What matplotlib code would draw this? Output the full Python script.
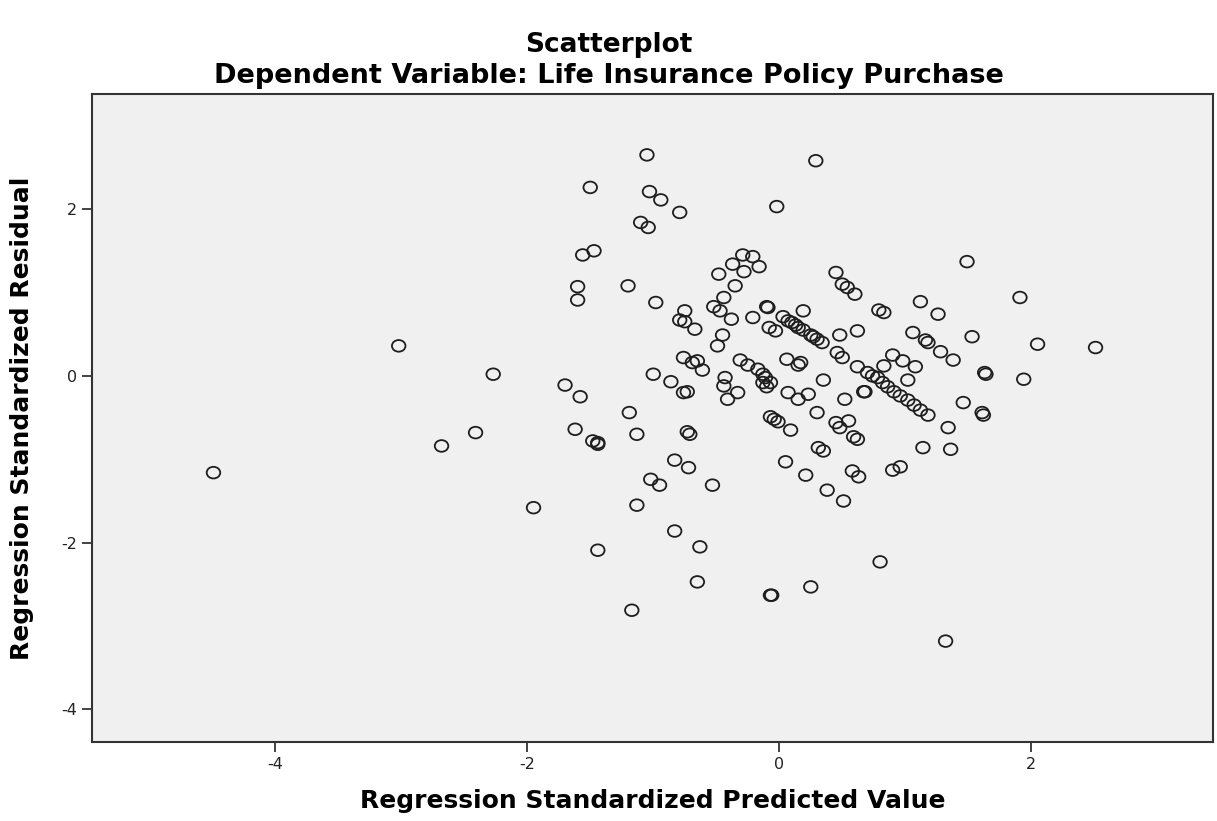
import matplotlib.pyplot as plt
import numpy as np
from matplotlib.path import Path

plt.rcParams['axes.unicode_minus'] = False

# standardized predicted value (x) and standardized residual (y)
pred = [
    -4.49, -3.02, -2.68, -2.41, -2.27, -1.95, -1.05, 0.29, -1.50, -1.03,
    -0.94, -0.79, -0.02, -1.10, -1.04, -1.56, -1.47, -1.60, -1.60, -1.20,
    -0.98, -0.29, -0.21, -0.37, -0.16, -0.28, -0.48, -0.35, -0.44, -0.52,
    -0.47, -0.38, -0.75, -0.79, -0.75, -0.67, -0.21, -0.10, -0.09, 0.03,
    0.07, 0.13, 0.15, 0.19, 0.19, -0.08, -0.03, 0.25, 0.30, 0.34,
    0.45, 0.50, 0.54, 0.60, 0.48, 0.62, -0.45, -0.49, -1.70, -1.00,
    -0.86, -0.76, -0.69, -0.65, -0.61, -0.31, -0.25, -0.17, -0.13, -0.11,
    -0.07, 0.06, 0.15, 0.17, -0.43, -0.44, 0.35, 0.46, 0.50, 0.62,
    0.70, 0.79, 0.83, -0.76, -0.73, -0.41, -0.33, -0.13, -0.10, 0.07,
    0.15, 0.23, 0.52, 0.67, 0.30, -0.07, -0.04, -0.01, 0.09, 0.45,
    0.48, 0.55, 0.59, 0.62, 0.31, 0.35, -0.73, -0.71, -1.13, -0.83,
    -0.72, 0.05, -1.02, -0.95, 0.21, 0.58, 0.63, 0.90, 0.96, -1.58,
    -1.19, -1.62, -1.48, -1.44, -1.44, 0.38, 0.51, -0.53, -1.13, -0.83,
    -0.63, -1.44, -0.65, -0.07, -0.06, 0.25, -1.17, 0.80, 1.32, 1.49,
    1.91, 1.12, 1.26, 1.06, 1.16, 1.18, 1.28, 1.38, 1.53, 2.05,
    2.51, 0.90, 0.98, 1.08, 0.83, 1.02, 1.63, 1.64, 1.94, 0.78,
    0.86, 0.91, 1.02, 1.12, 1.18, 0.82, 0.96, 1.07, 0.68, 1.46,
    1.61, 1.62, 1.34, 1.14, 1.36, 0.10, 0.27, 0.74,
]
resid = [
    -1.16, 0.36, -0.84, -0.68, 0.02, -1.58, 2.65, 2.58, 2.26, 2.21,
    2.11, 1.96, 2.03, 1.84, 1.78, 1.45, 1.50, 1.07, 0.91, 1.08,
    0.88, 1.45, 1.43, 1.34, 1.31, 1.25, 1.22, 1.08, 0.94, 0.83,
    0.78, 0.68, 0.78, 0.67, 0.65, 0.56, 0.70, 0.83, 0.82, 0.71,
    0.66, 0.61, 0.58, 0.55, 0.78, 0.58, 0.54, 0.49, 0.44, 0.40,
    1.24, 1.10, 1.06, 0.98, 0.49, 0.54, 0.49, 0.36, -0.11, 0.02,
    -0.07, 0.22, 0.16, 0.18, 0.07, 0.19, 0.13, 0.08, 0.02, -0.02,
    -0.08, 0.20, 0.13, 0.16, -0.02, -0.12, -0.05, 0.28, 0.22, 0.11,
    0.04, 0.79, 0.76, -0.20, -0.19, -0.28, -0.20, -0.08, -0.13, -0.20,
    -0.28, -0.22, -0.28, -0.19, -0.44, -0.49, -0.52, -0.55, -0.65, -0.56,
    -0.62, -0.54, -0.73, -0.76, -0.86, -0.90, -0.67, -0.70, -0.70, -1.01,
    -1.10, -1.03, -1.24, -1.31, -1.19, -1.14, -1.21, -1.13, -1.09, -0.25,
    -0.44, -0.64, -0.78, -0.80, -0.82, -1.37, -1.50, -1.31, -1.55, -1.86,
    -2.05, -2.09, -2.47, -2.63, -2.63, -2.53, -2.81, -2.23, -3.18, 1.37,
    0.94, 0.89, 0.74, 0.52, 0.43, 0.40, 0.29, 0.19, 0.47, 0.38,
    0.34, 0.25, 0.18, 0.11, 0.12, -0.05, 0.04, 0.02, -0.04, -0.02,
    -0.13, -0.19, -0.29, -0.41, -0.47, -0.08, -0.24, -0.35, -0.19, -0.32,
    -0.44, -0.47, -0.62, -0.86, -0.88, 0.64, 0.47, 0.00,
]
x_ticks = [-4, -2, 0, 2]
y_ticks = [-4, -2, 0, 2]

title = 'Scatterplot'
subtitle = 'Dependent Variable: Life Insurance Policy Purchase'
x_label = 'Regression Standardized Predicted Value'
y_label = 'Regression Standardized Residual'

# SPSS export is stretched sideways, so the circles come out a little wide
circ = Path.unit_circle()
oval = Path(circ.vertices * np.array([1.0, 0.86]), circ.codes)

fig = plt.figure(figsize=(12.17, 8.21), dpi=100)
ax = fig.add_axes([0.076, 0.0962, 0.9205, 0.7893])
ax.set_facecolor('#f0f0f0')

ax.scatter(pred, resid, s=95, marker=oval, facecolors='none',
           edgecolors='#1e1e1e', linewidths=1.3, zorder=3)

ax.set_xlim(-5.45, 3.44)
ax.set_ylim(-4.39, 3.38)
ax.set_xticks(x_ticks)
ax.set_yticks(y_ticks)
ax.tick_params(length=7, width=1.2, labelsize=11.5, color='#222222',
               labelcolor='#222222', pad=4)
for sp in ax.spines.values():
    sp.set_linewidth(1.5)
    sp.set_color('#333333')

ax.set_xlabel(x_label, fontsize=18, fontweight='bold', family='DejaVu Sans',
              labelpad=12)
ax.set_ylabel(y_label, fontsize=18, fontweight='bold', family='DejaVu Sans',
              labelpad=20)

fig.text(0.5, 0.945, title, ha='center', va='center', fontsize=19,
         fontweight='bold', family='DejaVu Sans')
fig.text(0.5, 0.908, subtitle, ha='center', va='center', fontsize=19.5,
         fontweight='bold', family='DejaVu Sans')

fig.savefig('out.png', dpi=100)
